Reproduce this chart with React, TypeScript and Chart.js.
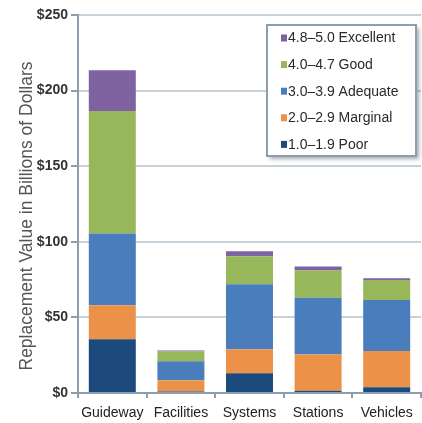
import React, { useEffect, useRef } from "react";
import { Chart, registerables } from "chart.js";

Chart.register(...registerables);

// Asset categories along the x axis
const categories = ["Guideway", "Facilities", "Systems", "Stations", "Vehicles"];

// Replacement value (billions of dollars) by condition rating, stacked bottom to top
const poor = [35.5, 1.0, 13.0, 1.5, 3.8];
const marginal = [22.5, 7.5, 16.0, 24.0, 24.0];
const adequate = [47.5, 12.5, 43.0, 37.5, 33.7];
const good = [81.0, 6.5, 18.5, 18.0, 13.2];
const excellent = [27.0, 0.6, 3.3, 2.7, 1.2];

const seriesLabels = [
  "1.0–1.9 Poor",
  "2.0–2.9 Marginal",
  "3.0–3.9 Adequate",
  "4.0–4.7 Good",
  "4.8–5.0 Excellent",
];
const seriesColors = ["#1d4a7c", "#ec9248", "#4a7dbb", "#98b75a", "#7e62a2"];

const yMax = 250;
const yStep = 50;
const yTitle = "Replacement Value in Billions of Dollars";

const FONT = "'Liberation Sans', Arial, sans-serif";

// Rotated y-axis title
const axisTitle = {
  id: "axisTitle",
  afterDraw(chart: any) {
    const ctx = chart.ctx as CanvasRenderingContext2D;
    ctx.save();
    ctx.translate(27, 216);
    ctx.rotate(-Math.PI / 2);
    ctx.font = `17.5px ${FONT}`;
    ctx.fillStyle = "#555555";
    ctx.textAlign = "center";
    ctx.textBaseline = "middle";
    ctx.fillText(yTitle, 0, 0);
    ctx.restore();
  },
};

// Boxed legend in the upper right corner of the plot, top entry = last dataset
const boxLegend = {
  id: "boxLegend",
  afterDraw(chart: any) {
    const ctx = chart.ctx as CanvasRenderingContext2D;
    const x = 267;
    const y = 25;
    const w = 149;
    const h = 131;
    ctx.save();
    // soft drop shadow
    ctx.shadowColor = "rgba(90,100,110,0.55)";
    ctx.shadowBlur = 4;
    ctx.shadowOffsetX = 3;
    ctx.shadowOffsetY = 3;
    ctx.fillStyle = "#ffffff";
    ctx.fillRect(x, y, w, h);
    ctx.shadowColor = "transparent";
    ctx.lineWidth = 2;
    ctx.strokeStyle = "#8b9fae";
    ctx.strokeRect(x, y, w, h);

    const ds = chart.data.datasets;
    ctx.font = `14px ${FONT}`;
    ctx.textBaseline = "middle";
    ctx.textAlign = "left";
    for (let i = 0; i < ds.length; i++) {
      const item = ds[ds.length - 1 - i];
      const cy = 38 + i * 26.6;
      ctx.fillStyle = item.backgroundColor;
      ctx.fillRect(281, cy - 3.5, 6, 7);
      ctx.fillStyle = "#2a2a2a";
      ctx.fillText(item.label, 288, cy + 0.5);
    }
    ctx.restore();
  },
};

export default function App() {
  const canvasRef = useRef<HTMLCanvasElement | null>(null);

  useEffect(() => {
    const canvas = canvasRef.current;
    if (!canvas) return;
    const values = [poor, marginal, adequate, good, excellent];
    const chart = new Chart(canvas, {
      type: "bar",
      data: {
        labels: categories,
        datasets: values.map((data, i) => ({
          label: seriesLabels[i],
          data,
          backgroundColor: seriesColors[i],
          borderWidth: 0,
          categoryPercentage: 1,
          barPercentage: 0.685,
        })),
      },
      options: {
        responsive: false,
        animation: false,
        devicePixelRatio: 1,
        layout: { padding: { top: 15, right: 1, left: 0, bottom: 0 } },
        plugins: {
          legend: { display: false },
          tooltip: { enabled: false },
        },
        scales: {
          x: {
            stacked: true,
            afterFit(scale: any) {
              scale.height = 30;
            },
            grid: {
              drawOnChartArea: false,
              drawTicks: true,
              tickLength: 5,
              tickColor: "#8b9fae",
              lineWidth: 2,
            },
            border: { color: "#8b9fae", width: 2 },
            ticks: {
              color: "#222222",
              font: { family: FONT, size: 14 },
              padding: 7,
              maxRotation: 0,
            },
          },
          y: {
            stacked: true,
            min: 0,
            max: yMax,
            afterFit(scale: any) {
              scale.width = 78;
            },
            grid: {
              color: "#c6d1d9",
              lineWidth: 2,
              tickLength: 7,
              tickColor: "#8b9fae",
            },
            border: { color: "#8b9fae", width: 2 },
            ticks: {
              stepSize: yStep,
              color: "#333333",
              font: { family: FONT, size: 14, weight: "bold" },
              padding: 3,
              callback: (v: any) => `$${v}`,
            },
          },
        },
      },
      plugins: [boxLegend, axisTitle],
    });
    return () => chart.destroy();
  }, []);

  return (
    <div style={{ position: "fixed", left: 0, top: 0, width: 422, height: 423, background: "#fff" }}>
      <canvas ref={canvasRef} width={422} height={423} style={{ display: "block" }} />
    </div>
  );
}
